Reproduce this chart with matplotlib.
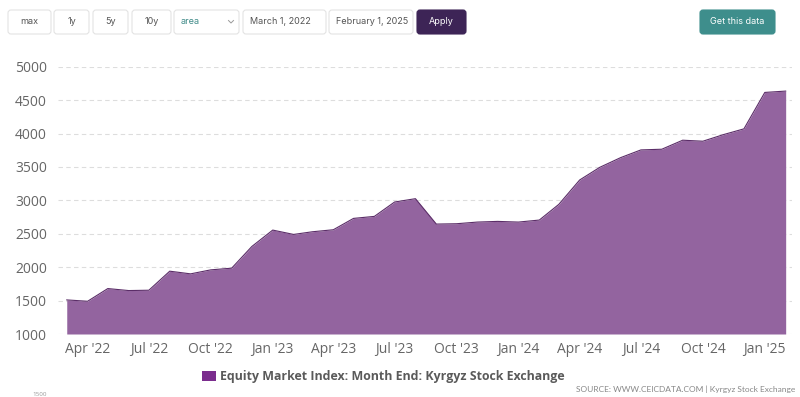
import matplotlib
matplotlib.use("Agg")
import matplotlib.pyplot as plt
import matplotlib.dates as mdates
from matplotlib.patches import FancyBboxPatch, Rectangle
import pandas as pd
import numpy as np

plt.rcParams['font.family'] = ['Open Sans', 'DejaVu Sans']

# ---- data ----
start_month = "2022-03-01"
values = [1510, 1490, 1680, 1650, 1655, 1940, 1900, 1960, 1985, 2310,
          2555, 2490, 2530, 2560, 2730, 2760, 2975, 3025, 2645, 2650,
          2675, 2685, 2675, 2705, 2940, 3305, 3495, 3640, 3755, 3765,
          3900, 3885, 3985, 4070, 4615, 4635]
dates = pd.date_range(start_month, periods=len(values), freq="MS")
tick_labels = ["Apr '22", "Jul '22", "Oct '22", "Jan '23", "Apr '23", "Jul '23",
               "Oct '23", "Jan '24", "Apr '24", "Jul '24", "Oct '24", "Jan '25"]
tick_dates = pd.date_range("2022-04-01", periods=len(tick_labels), freq="3MS")
y_ticks = [1000, 1500, 2000, 2500, 3000, 3500, 4000, 4500, 5000]
series_name = "Equity Market Index: Month End: Kyrgyz Stock Exchange"
source_text = "SOURCE: WWW.CEICDATA.COM | Kyrgyz Stock Exchange"
cut_label = "1500"
buttons = ["max", "1y", "5y", "10y"]
date_from = "March 1, 2022"
date_to = "February 1, 2025"

W, H = 800, 397
fig = plt.figure(figsize=(W / 100, H / 100), dpi=100)
fig.patch.set_facecolor("white")

def fx(px):
    return px / W

def fy(py):
    return 1 - py / H

ax_l, ax_r, ax_t, ax_b = 58, 792, 66.7, 334
ax = fig.add_axes([fx(ax_l), fy(ax_b), fx(ax_r - ax_l), (ax_b - ax_t) / H])

fill_color = "#93649f"
line_color = "#5b2d68"
ax.fill_between(dates, values, 1000, color=fill_color, linewidth=0, zorder=2)
ax.plot(dates, values, color=line_color, linewidth=0.8, zorder=3)

ax.set_ylim(1000, 5000)
ax.set_xlim(dates[0] - pd.Timedelta(days=13), dates[-1] + pd.Timedelta(days=9.4))
ax.set_yticks(y_ticks)
ax.set_yticklabels([str(v) for v in y_ticks])
ax.set_xticks(tick_dates)
ax.set_xticklabels(tick_labels)
ax.tick_params(axis="both", length=0, labelsize=10, labelcolor="#666666")
ax.tick_params(axis="y", pad=8)
ax.tick_params(axis="x", pad=6)
ax.grid(axis="y", color="#dddddd", linestyle=(0, (4, 3)), linewidth=0.8, zorder=1)
for s in ax.spines.values():
    s.set_visible(False)
ax.set_facecolor("white")

# ---- UI overlay ----
ui = fig.add_axes([0, 0, 1, 1], zorder=5)
ui.set_xlim(0, W)
ui.set_ylim(H, 0)
ui.axis("off")
ui.patch.set_alpha(0)

def box(x0, x1, y0, y1, fc="white", ec="#e3e3e3", r=3):
    p = FancyBboxPatch((x0 + r, y0 + r), (x1 - x0) - 2 * r, (y1 - y0) - 2 * r,
                       boxstyle=f"round,pad={r}", fc=fc, ec=ec, lw=0.8)
    ui.add_patch(p)

btn_x = [(8, 51), (54, 89), (93, 128), (132, 171)]
for (x0, x1), lab in zip(btn_x, buttons):
    box(x0, x1, 10, 34)
    ui.text((x0 + x1) / 2, 22, lab, ha="center", va="center", fontsize=6.5,
            color="#555555", family=["Inter", "DejaVu Sans"])
box(174, 239, 10, 34)
ui.text(181, 22, "area", ha="left", va="center", fontsize=6.5, color="#3f8a88",
        family=["Inter", "DejaVu Sans"])
ui.plot([228.5, 231, 233.5], [20.5, 23, 20.5], color="#999999", lw=0.7)
box(243, 326, 10, 34)
ui.text(250, 22, date_from, ha="left", va="center", fontsize=6.5, color="#555555",
        family=["Inter", "DejaVu Sans"])
box(329, 413, 10, 34)
ui.text(336, 22, date_to, ha="left", va="center", fontsize=6.5, color="#555555",
        family=["Inter", "DejaVu Sans"])
box(417, 466, 10, 34, fc="#3d2456", ec="#3d2456")
ui.text(441.5, 22, "Apply", ha="center", va="center", fontsize=6.5, color="white",
        family=["Inter", "DejaVu Sans"])
box(700, 775, 10, 34, fc="#3e8e8c", ec="#3e8e8c")
ui.text(737.5, 22, "Get this data", ha="center", va="center", fontsize=6.5,
        color="white", family=["Inter", "DejaVu Sans"])

# legend
ui.add_patch(Rectangle((202, 371), 14, 10, fc="#7b2d8e", ec="none"))
ui.text(220, 376.5, series_name, ha="left", va="center", fontsize=8.9,
        fontweight="bold", color="#5a5a5a", family=["Open Sans", "DejaVu Sans"])
ui.text(795, 389, source_text, ha="right", va="center", fontsize=6,
        color="#888888", family=["Lato", "DejaVu Sans"])
# small label at the bottom edge (cut off in the original screenshot)
ui.text(47, 396.5, cut_label, ha="right", va="bottom", fontsize=4.5, color="#999999")

fig.savefig("out.png", dpi=100)
